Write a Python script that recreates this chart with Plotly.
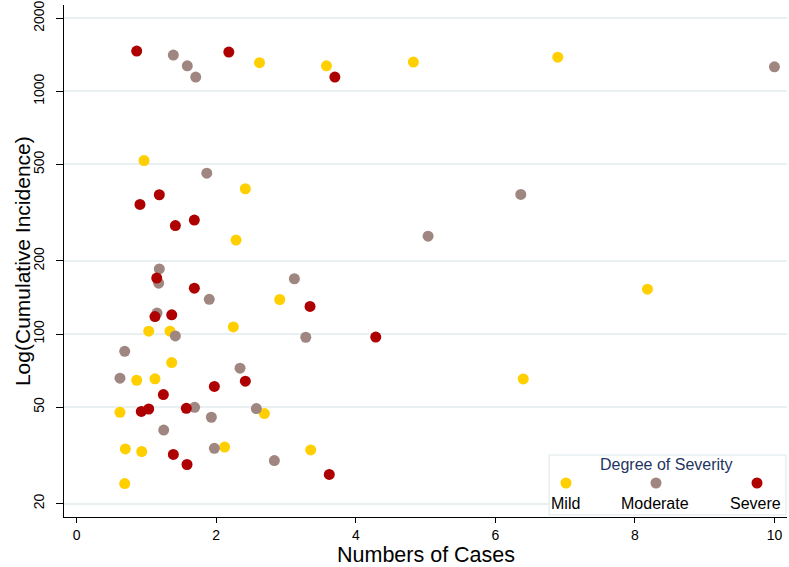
import plotly.graph_objects as go

# ---- data ----
mild_x = [0.965, 2.417, 2.284, 2.62, 3.58, 4.825, 6.895, 8.18, 6.40, 2.91, 2.245, 1.032,
          1.337, 1.362, 0.86, 1.122, 0.62, 2.69, 0.697, 0.932, 2.12, 3.354, 0.688]
mild_y = [519, 397, 244, 1313, 1275, 1321, 1384, 153, 65.3, 138.8, 107, 102.7,
          102.7, 76.3, 64.5, 65.4, 47.6, 47.0, 33.6, 32.8, 34.2, 33.3, 24.2]

moderate_x = [1.385, 1.585, 1.706, 10.0, 1.864, 6.365, 5.036, 1.184, 1.175, 3.12, 1.90, 1.151,
              1.414, 3.283, 0.688, 2.341, 0.62, 1.69, 2.575, 1.93, 1.247, 1.973, 2.833]
moderate_y = [1412, 1275, 1145, 1263, 460, 376, 253, 185.5, 162, 169, 139, 122,
              98.2, 97, 84.9, 72.3, 65.8, 49.9, 49.3, 45.4, 40.2, 33.8, 30.1]

severe_x = [0.86, 2.18, 3.70, 1.184, 0.907, 1.686, 1.414, 1.147, 1.686, 3.344, 1.362,
            1.122, 4.286, 2.417, 1.973, 1.242, 1.571, 1.032, 0.926, 1.385, 1.581, 3.62]
severe_y = [1466, 1452, 1145, 375, 342, 295, 280, 170, 154.5, 130, 120,
            118, 97.2, 63.9, 60.8, 56.3, 49.4, 49.1, 48, 31.9, 29.0, 26.4]

series_names = ["Mild", "Moderate", "Severe"]
series_colors = ["#FFCF00", "#A08680", "#AE0000"]

y_tickvals = [20, 50, 100, 200, 500, 1000, 2000]
x_tickvals = [0, 2, 4, 6, 8, 10]

FONT = "Liberation Sans, Arial, Helvetica, sans-serif"

fig = go.Figure()
for name, xs, ys, col in zip(series_names,
                             [mild_x, moderate_x, severe_x],
                             [mild_y, moderate_y, severe_y],
                             series_colors):
    fig.add_trace(go.Scatter(x=xs, y=ys, mode="markers", name=name,
                             marker=dict(color=col, size=11, line=dict(width=0)),
                             showlegend=False))

# ---- manual legend (Stata style: markers above labels) ----
leg_x = [0.6943, 0.8188, 0.9585]
shapes = [dict(type="rect", xref="paper", yref="paper", x0=0.671, x1=0.9986,
               y0=0.004, y1=0.121, line=dict(color="#DCE6EA", width=1),
               fillcolor="white", layer="above")]
for lx, col in zip(leg_x, series_colors):
    shapes.append(dict(type="circle", xref="paper", yref="paper",
                       xsizemode="pixel", ysizemode="pixel",
                       xanchor=lx, yanchor=0.0664, x0=-5.5, x1=5.5, y0=-5.5, y1=5.5,
                       fillcolor=col, line=dict(width=0), layer="above"))
annotations = [dict(text="Degree of Severity", xref="paper", yref="paper",
                    x=0.834, y=0.1016, showarrow=False, xanchor="center", yanchor="middle",
                    font=dict(size=16, color="#23355F", family=FONT))]
for lx, name in zip([0.6943, 0.8174, 0.9564], series_names):
    annotations.append(dict(text=name, xref="paper", yref="paper", x=lx, y=0.0273,
                            showarrow=False, xanchor="center", yanchor="middle",
                            font=dict(size=16, color="black", family=FONT)))
# axis titles
annotations.append(dict(text="Numbers of Cases", xref="paper", yref="paper",
                        x=0.5, y=-0.0742, showarrow=False, xanchor="center", yanchor="middle",
                        font=dict(size=21.5, color="black", family=FONT)))
annotations.append(dict(text="Log(Cumulative Incidence)", xref="paper", yref="paper",
                        x=-0.0580, y=0.5, showarrow=False, xanchor="center", yanchor="middle",
                        textangle=-90, font=dict(size=21, color="black", family=FONT)))

fig.update_layout(
    width=789, height=567,
    margin=dict(l=64, r=2, t=5, b=50, autoexpand=False),
    paper_bgcolor="white", plot_bgcolor="white",
    font=dict(family=FONT, color="black", size=14),
    shapes=shapes, annotations=annotations,
    xaxis=dict(range=[-0.182, 10.18], tickvals=x_tickvals, ticks="outside", ticklen=5,
               tickcolor="black", showline=True, linecolor="black", linewidth=1,
               showgrid=False, zeroline=False, tickfont=dict(size=14),
               automargin=False, ticklabelstandoff=0),
    yaxis=dict(type="log", range=[1.246, 3.356], tickvals=y_tickvals,
               ticktext=[str(v) for v in y_tickvals], tickangle=-90,
               ticks="outside", ticklen=7, tickcolor="black",
               showline=True, linecolor="black", linewidth=1,
               showgrid=True, gridcolor="#E8F0F2", gridwidth=1.5, zeroline=False,
               tickfont=dict(size=14), automargin=False, ticklabelstandoff=6),
)

fig.write_html("out.html", config={"displayModeBar": False},
               post_script="document.body.style.margin='0';document.body.style.padding='0';")
